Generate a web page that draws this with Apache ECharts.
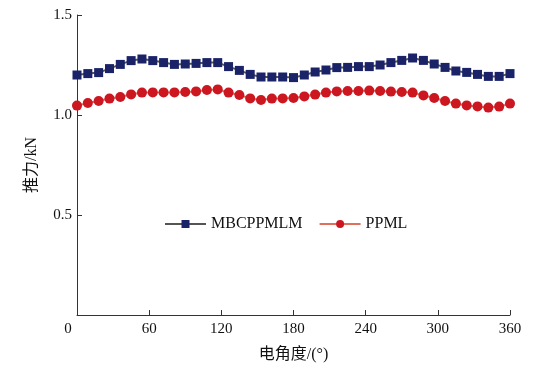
<!DOCTYPE html>
<html>
<head>
<meta charset="utf-8">
<script src="https://cdn.jsdelivr.net/npm/echarts@6/dist/echarts.min.js"></script>
<style>
  html, body { margin: 0; padding: 0; background: #fff; }
  #chart { width: 555px; height: 376px; }
</style>
</head>
<body>
<div id="chart"></div>
<script>
// Angles électriques (pas de 9°)
const angles = [];
for (let a = 0; a <= 360; a += 9) angles.push(a);

// Poussée MBCPPMLM (kN)
const mbcppmlm = [
  1.20, 1.207, 1.212, 1.232, 1.253, 1.272, 1.28, 1.272, 1.262, 1.253,
  1.255, 1.258, 1.262, 1.262, 1.242, 1.223, 1.203, 1.19, 1.19, 1.19,
  1.187, 1.20, 1.215, 1.225, 1.237, 1.238, 1.242, 1.242, 1.25, 1.262,
  1.273, 1.285, 1.273, 1.255, 1.238, 1.22, 1.213, 1.203, 1.193, 1.193,
  1.207
];

// Poussée PPML (kN)
const ppml = [
  1.047, 1.06, 1.07, 1.082, 1.09, 1.103, 1.112, 1.113, 1.113, 1.113,
  1.115, 1.118, 1.125, 1.128, 1.112, 1.10, 1.083, 1.075, 1.082, 1.083,
  1.085, 1.093, 1.102, 1.112, 1.118, 1.12, 1.12, 1.122, 1.12, 1.117,
  1.115, 1.112, 1.098, 1.085, 1.07, 1.057, 1.048, 1.043, 1.037, 1.042,
  1.057
];

const seriesNames = ["MBCPPMLM", "PPML"];

const font = '"Liberation Serif", "Times New Roman", "Noto Sans CJK SC", serif';

const chart = echarts.init(document.getElementById("chart"));

chart.setOption({
  animation: false,
  textStyle: { fontFamily: font },
  grid: { left: 77, right: 45, top: 15, bottom: 61 },
  legend: {
    left: 159,
    top: 211,
    itemWidth: 41,
    itemHeight: 10,
    itemGap: 16,
    textStyle: { fontFamily: font, fontSize: 16, color: "#111" },
    data: seriesNames,
  },
  xAxis: {
    type: "value",
    min: 0,
    max: 360,
    interval: 60,
    name: "电角度/(°)",
    nameLocation: "middle",
    nameGap: 32,
    nameTextStyle: { fontFamily: font, fontSize: 16, color: "#111" },
    axisLine: { lineStyle: { color: "#333", width: 1 } },
    axisTick: { inside: true, length: 5, lineStyle: { color: "#333" } },
    splitLine: { show: false },
    axisLabel: {
      fontFamily: font,
      fontSize: 15,
      color: "#111",
      margin: 7,
      formatter: (v) => (v === 0 ? "{z|0}" : String(v)),
      rich: { z: { fontFamily: font, fontSize: 15, color: "#111", padding: [0, 18, 0, 0] } },
    },
  },
  yAxis: {
    type: "value",
    min: 0,
    max: 1.5,
    interval: 0.5,
    name: "推力/kN",
    nameLocation: "middle",
    nameGap: 37,
    nameTextStyle: { fontFamily: font, fontSize: 16, color: "#111" },
    axisLine: { show: true, lineStyle: { color: "#333", width: 1 } },
    axisTick: { show: true, inside: true, length: 5, lineStyle: { color: "#333" } },
    splitLine: { show: false },
    axisLabel: {
      fontFamily: font,
      fontSize: 15,
      color: "#111",
      margin: 5,
      formatter: (v) => (v === 0 ? "" : v.toFixed(1)),
    },
  },
  series: [
    {
      name: seriesNames[0],
      type: "line",
      data: angles.map((a, i) => [a, mbcppmlm[i]]),
      symbol: "rect",
      symbolSize: 9,
      itemStyle: { color: "#1a2268" },
      lineStyle: { color: "#555", width: 2 },
    },
    {
      name: seriesNames[1],
      type: "line",
      data: angles.map((a, i) => [a, ppml[i]]),
      symbol: "circle",
      symbolSize: 10,
      itemStyle: { color: "#cc1620" },
      lineStyle: { color: "#e0705e", width: 2 },
    },
  ],
});
</script>
</body>
</html>
